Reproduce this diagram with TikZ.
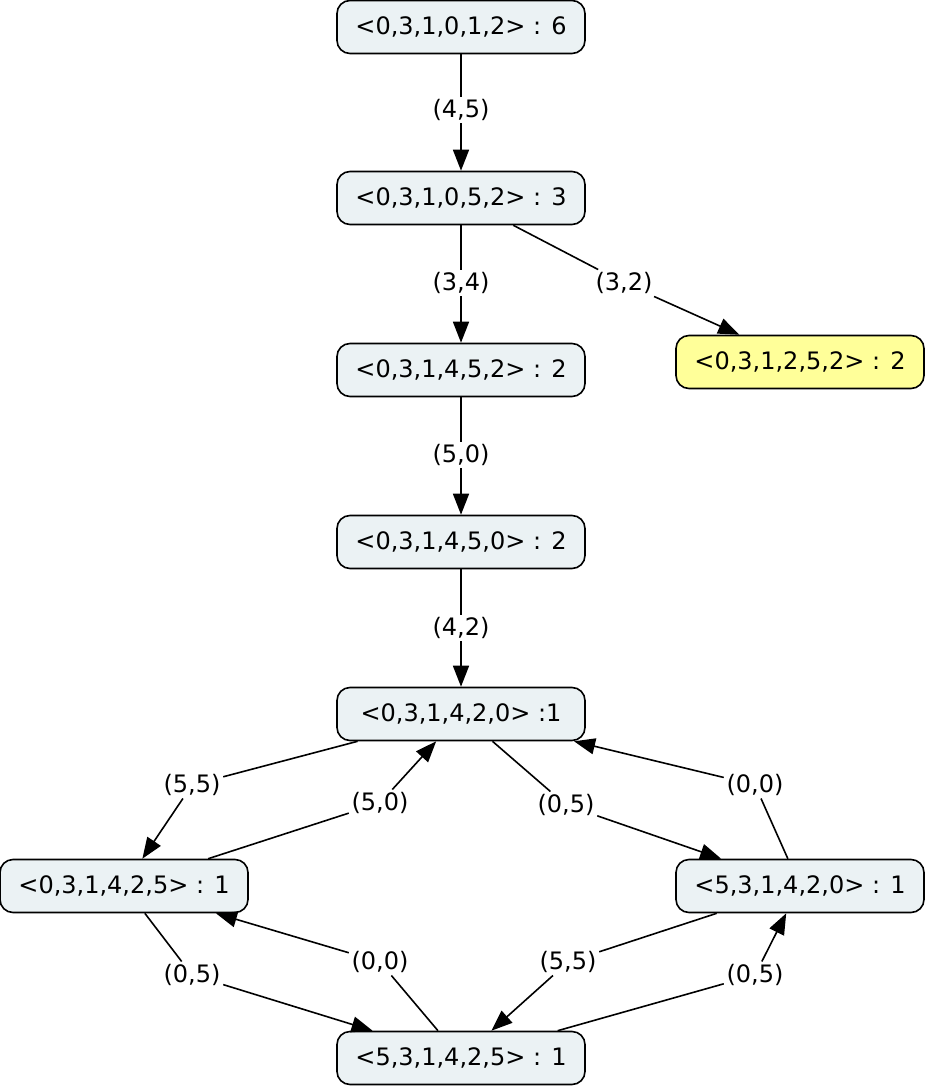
\documentclass[tikz,border=0pt]{standalone}
\usepackage{fontspec}
\setmainfont{DejaVu Sans}
\usetikzlibrary{arrows.meta}
\definecolor{stategray}{HTML}{EBF2F4}
\definecolor{goalyellow}{HTML}{FFFF99}

\begin{document}
\begin{tikzpicture}[x=1pt,y=-1pt,line width=1.6pt,
	every node/.style={font=\fontsize{24}{28}\selectfont},
	state/.style={draw,rounded corners=13pt,fill=stategray,minimum width=248pt,minimum height=53pt,inner sep=0pt},
	lbl/.style={inner sep=2pt},
	edge/.style={-{Triangle[length=21pt,width=16pt]}}]
\useasboundingbox (0,0) rectangle (924,1086);

% states
\node[state] (n1) at (461,27) {<0,3,1,0,1,2> : 6};
\node[state] (n2) at (461,198) {<0,3,1,0,5,2> : 3};
\node[state] (n3) at (461,370) {<0,3,1,4,5,2> : 2};
\node[state,fill=goalyellow] (n4) at (800,362) {<0,3,1,2,5,2> : 2};
\node[state] (n5) at (461,542) {<0,3,1,4,5,0> : 2};
\node[state] (n6) at (461,714) {<0,3,1,4,2,0> :1};
\node[state] (n7) at (124,886) {<0,3,1,4,2,5> : 1};
\node[state] (n8) at (800,886) {<5,3,1,4,2,0> : 1};
\node[state] (n9) at (461,1058) {<5,3,1,4,2,5> : 1};

% edge labels
\node[lbl] (l12) at (461,110) {(4,5)};
\node[lbl] (l23) at (461,283) {(3,4)};
\node[lbl] (l24) at (624,283) {(3,2)};
\node[lbl] (l35) at (461,455) {(5,0)};
\node[lbl] (l56) at (461,628) {(4,2)};
\node[lbl] (l67) at (192,785) {(5,5)};
\node[lbl] (l76) at (380,803) {(5,0)};
\node[lbl] (l68) at (566,805) {(0,5)};
\node[lbl] (l86) at (755,785) {(0,0)};
\node[lbl] (l79) at (192,975) {(0,5)};
\node[lbl] (l97) at (380,962) {(0,0)};
\node[lbl] (l89) at (568,962) {(5,5)};
\node[lbl] (l98) at (755,975) {(0,5)};

% transitions
\draw[edge] (n1) -- (l12) -- (n2);
\draw[edge] (n2) -- (l23) -- (n3);
\draw[edge] (n2) -- (l24) -- (n4);
\draw[edge] (n3) -- (l35) -- (n5);
\draw[edge] (n5) -- (l56) -- (n6);
\draw[edge] (n6) -- (l67) -- (n7);
\draw[edge] (n7) -- (l76) -- (n6);
\draw[edge] (n6) -- (l68) -- (n8);
\draw[edge] (n8) -- (l86) -- (n6);
\draw[edge] (n7) -- (l79) -- (n9);
\draw[edge] (n9) -- (l97) -- (n7);
\draw[edge] (n8) -- (l89) -- (n9);
\draw[edge] (n9) -- (l98) -- (n8);
\end{tikzpicture}
\end{document}
